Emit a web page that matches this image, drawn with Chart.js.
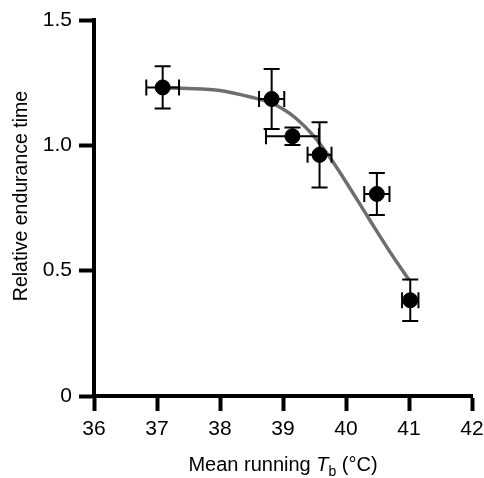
<!DOCTYPE html>
<html>
<head>
<meta charset="utf-8">
<script src="https://cdn.jsdelivr.net/npm/chart.js@4"></script>
<style>
    html, body { margin: 0; padding: 0; background: #fff; }
    #wrap { width: 484px; height: 478px; position: relative; }
</style>
</head>
<body>
<div id="wrap"><canvas id="chart"></canvas></div>
<script>
// measured points (mean running Tb vs relative endurance time)
const tempX = [37.09, 38.82, 39.15, 39.58, 40.49, 41.02];
const enduranceY = [1.231, 1.185, 1.036, 0.962, 0.806, 0.382];
const xErr = [0.26, 0.20, 0.42, 0.19, 0.20, 0.13];
const yErr = [0.084, 0.12, 0.035, 0.13, 0.084, 0.083];

// fitted curve
const curveX = [37.09, 37.5, 38.0, 38.5, 38.8, 39.0, 39.2, 39.5, 39.75, 40.0, 40.36, 40.7, 41.0];
const curveY = [1.229, 1.227, 1.219, 1.192, 1.170, 1.145, 1.109, 1.034, 0.949, 0.854, 0.709, 0.574, 0.463];

const xTicks = [36, 37, 38, 39, 40, 41, 42];
const yTicks = [0, 0.5, 1.0, 1.5];
const yTickLabels = ['0', '0.5', '1.0', '1.5'];

const FONT = '"Liberation Sans", Arial, sans-serif';

const errorBars = {
    id: 'errorBars',
    afterDatasetsDraw(chart) {
        const ctx = chart.ctx;
        const xs = chart.scales.x;
        const ys = chart.scales.y;
        const cap = 8;
        ctx.save();
        ctx.strokeStyle = '#000';
        ctx.lineWidth = 2;
        tempX.forEach((xv, i) => {
            const px = xs.getPixelForValue(xv);
            const py = ys.getPixelForValue(enduranceY[i]);
            const yTop = ys.getPixelForValue(enduranceY[i] + yErr[i]);
            const yBot = ys.getPixelForValue(enduranceY[i] - yErr[i]);
            const xL = xs.getPixelForValue(xv - xErr[i]);
            const xR = xs.getPixelForValue(xv + xErr[i]);
            ctx.beginPath();
            ctx.moveTo(px, yTop); ctx.lineTo(px, yBot);
            ctx.moveTo(px - cap, yTop); ctx.lineTo(px + cap, yTop);
            ctx.moveTo(px - cap, yBot); ctx.lineTo(px + cap, yBot);
            ctx.moveTo(xL, py); ctx.lineTo(xR, py);
            ctx.moveTo(xL, py - cap); ctx.lineTo(xL, py + cap);
            ctx.moveTo(xR, py - cap); ctx.lineTo(xR, py + cap);
            ctx.stroke();
        });
        ctx.restore();
    }
};

// axis titles need italic T with a subscript b, so draw them by hand
const axisTitles = {
    id: 'axisTitles',
    afterDraw(chart) {
        const ctx = chart.ctx;
        const area = chart.chartArea;
        ctx.save();
        ctx.fillStyle = '#000';
        ctx.textBaseline = 'alphabetic';

        // x title
        const parts = [
            { t: 'Mean running ', f: '20px ' + FONT, dy: 0 },
            { t: 'T', f: 'italic 20px ' + FONT, dy: 0 },
            { t: 'b', f: '14px ' + FONT, dy: 5 },
            { t: ' (°C)', f: '20px ' + FONT, dy: 0 }
        ];
        let total = 0;
        parts.forEach(p => { ctx.font = p.f; p.w = ctx.measureText(p.t).width; total += p.w; });
        let x = (area.left + area.right) / 2 - total / 2;
        const base = 471;
        parts.forEach(p => {
            ctx.font = p.f;
            ctx.fillText(p.t, x, base + p.dy);
            x += p.w;
        });

        // y title
        ctx.translate(27, 196);
        ctx.rotate(-Math.PI / 2);
        ctx.font = '19.5px ' + FONT;
        ctx.textAlign = 'center';
        ctx.fillText('Relative endurance time', 0, 0);
        ctx.restore();
    }
};

const ctx = document.getElementById('chart').getContext('2d');
new Chart(ctx, {
    type: 'scatter',
    data: {
        datasets: [
            {
                label: 'data',
                data: tempX.map((v, i) => ({ x: v, y: enduranceY[i] })),
                backgroundColor: '#000',
                borderColor: '#000',
                pointRadius: 7.5,
                pointHoverRadius: 7.5
            },
            {
                label: 'fit',
                data: curveX.map((v, i) => ({ x: v, y: curveY[i] })),
                showLine: true,
                borderColor: '#6e6e6e',
                borderWidth: 3.5,
                pointRadius: 0,
                cubicInterpolationMode: 'monotone'
            }
        ]
    },
    options: {
        responsive: true,
        maintainAspectRatio: false,
        animation: false,
        layout: { padding: { top: 20, right: 12, left: 0, bottom: 0 } },
        plugins: {
            legend: { display: false },
            tooltip: { enabled: false }
        },
        scales: {
            x: {
                type: 'linear',
                min: 36,
                max: 42,
                afterBuildTicks: (scale) => { scale.ticks = xTicks.map(v => ({ value: v })); },
                afterFit: (scale) => {
                    scale.height = 82;
                    scale.paddingLeft = 0;
                    scale.paddingRight = 0;
                },
                grid: {
                    drawOnChartArea: false,
                    drawTicks: true,
                    tickLength: 15,
                    tickWidth: 4,
                    tickColor: '#000'
                },
                border: { display: true, color: '#000', width: 4 },
                ticks: {
                    color: '#000',
                    font: { family: FONT, size: 21 },
                    padding: 6,
                    maxRotation: 0
                }
            },
            y: {
                type: 'linear',
                min: 0,
                max: 1.5,
                afterBuildTicks: (scale) => { scale.ticks = yTicks.map(v => ({ value: v })); },
                afterFit: (scale) => {
                    scale.width = 94;
                    scale.paddingTop = 0;
                    scale.paddingBottom = 0;
                },
                grid: {
                    drawOnChartArea: false,
                    drawTicks: true,
                    tickLength: 15,
                    tickWidth: 4,
                    tickColor: '#000'
                },
                border: { display: true, color: '#000', width: 4 },
                ticks: {
                    color: '#000',
                    font: { family: FONT, size: 21 },
                    padding: 7,
                    callback: (v, i) => yTickLabels[i]
                }
            }
        }
    },
    plugins: [errorBars, axisTitles]
});
</script>
</body>
</html>
